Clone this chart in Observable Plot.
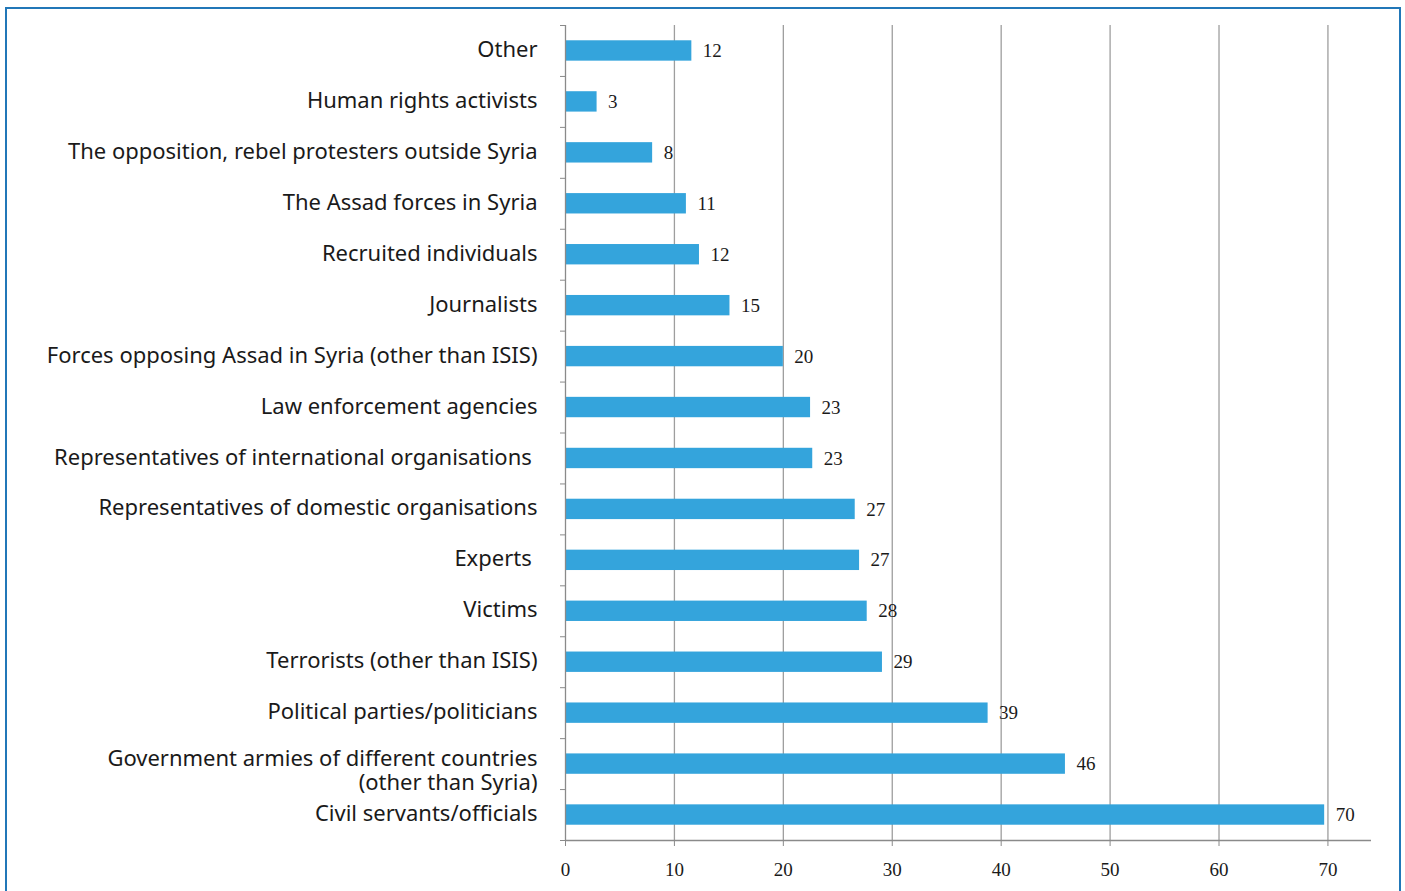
<!DOCTYPE html>
<html>
<head>
<meta charset="utf-8">
<script src="https://cdn.jsdelivr.net/npm/d3@7"></script>
<script src="https://cdn.jsdelivr.net/npm/@observablehq/plot@0.6"></script>
<style>
  html, body { margin: 0; padding: 0; background: #fff; }
  #wrap { position: relative; width: 1405px; height: 891px; overflow: hidden; }
  #frame { position: absolute; left: 5px; top: 7px; width: 1396px; height: 900px;
           border: 2px solid #2177b8; box-sizing: border-box; }
  #chart { position: absolute; left: 0; top: 0; }
</style>
</head>
<body>
<div id="wrap"><div id="frame"></div><div id="chart"></div></div>
<script>
const categories = [
  "Other",
  "Human rights activists",
  "The opposition, rebel protesters outside Syria",
  "The Assad forces in Syria",
  "Recruited individuals",
  "Journalists",
  "Forces opposing Assad in Syria (other than ISIS)",
  "Law enforcement agencies",
  "Representatives of international organisations\u00a0",
  "Representatives of domestic organisations",
  "Experts\u00a0",
  "Victims",
  "Terrorists (other than ISIS)",
  "Political parties/politicians",
  "Government armies of different countries\n(other than Syria)",
  "Civil servants/officials"
];
const values = [11.6, 2.9, 8.0, 11.1, 12.3, 15.1, 20.0, 22.5, 22.7, 26.6, 27.0, 27.7, 29.1, 38.8, 45.9, 69.7];
const xTicks = [0, 10, 20, 30, 40, 50, 60, 70];

const data = categories.map((c, i) => ({category: c, index: i, value: values[i], label: String(Math.round(values[i]))}));
const singleLine = data.filter(d => !d.category.includes("\n"));
const multiLine = data.filter(d => d.category.includes("\n"));
const boundaries = d3.range(-0.5, categories.length, 1);

const sans = "'Noto Sans', 'Open Sans', sans-serif";
const serif = "'Liberation Serif', 'DejaVu Serif', serif";

const chart = Plot.plot({
  width: 1405,
  height: 891,
  marginLeft: 565,
  marginRight: 34,
  marginTop: 25,
  marginBottom: 51,
  style: {background: "transparent", color: "#1a1a1a"},
  x: {domain: [0, 74]},
  y: {domain: [-0.5, categories.length - 0.5], reverse: true},
  marks: [
    Plot.ruleX(xTicks.slice(1), {stroke: "#9e9e9e", strokeWidth: 1.3, strokeOpacity: 1}),
    Plot.rectX(data, {x1: 0, x2: "value", y1: d => d.index - 0.2, y2: d => d.index + 0.2, fill: "#34a4dc", inset: 0}),
    Plot.ruleX([0], {stroke: "#8a8a8a", strokeWidth: 1.3}),
    Plot.ruleY([categories.length - 0.5], {stroke: "#8a8a8a", strokeWidth: 1.3, x1: 0, x2: 74}),
    Plot.axisY({ticks: boundaries, tickSize: 5, tickFormat: () => "", stroke: "#8a8a8a", label: null}),
    Plot.axisX({ticks: xTicks, tickSize: 6, tickPadding: 16, fontSize: 19, fontFamily: serif, stroke: "#8a8a8a", label: null, tickFormat: d => String(d)}),
    Plot.text(data, {x: "value", y: "index", text: "label", dx: 11, textAnchor: "start", fontSize: 19, fontFamily: serif, fill: "#1a1a1a"}),
    Plot.text(singleLine, {x: 0, y: "index", text: "category", dx: -28, dy: -1, textAnchor: "end", fontSize: 22, fontFamily: sans, fill: "#1a1a1a"}),
    Plot.text(multiLine, {x: 0, y: "index", text: "category", dx: -28, dy: 6, textAnchor: "end", fontSize: 22, fontFamily: sans, fill: "#1a1a1a", lineHeight: 1.1})
  ]
});
document.getElementById("chart").appendChild(chart);
</script>
</body>
</html>
